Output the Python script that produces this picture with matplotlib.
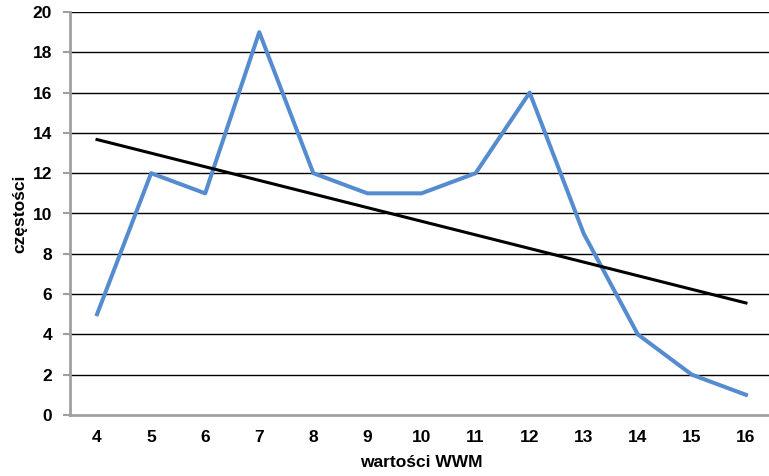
import numpy as np
import matplotlib
matplotlib.use("Agg")
import matplotlib.pyplot as plt

plt.rcParams['font.family'] = ['Liberation Sans', 'DejaVu Sans']

# dane
wartosci = [4, 5, 6, 7, 8, 9, 10, 11, 12, 13, 14, 15, 16]
czestosci = [5, 12, 11, 19, 12, 11, 11, 12, 16, 9, 4, 2, 1]
y_ticks = [0, 2, 4, 6, 8, 10, 12, 14, 16, 18, 20]

x = np.array(wartosci)
y = np.array(czestosci)

# linia trendu (liniowa)
a, b = np.polyfit(x, y, 1)
trend = a * x + b

fig = plt.figure(figsize=(7.69, 4.76), dpi=100)
ax = fig.add_axes([70 / 769, 61 / 476, 703 / 769, 403 / 476])

for t in y_ticks[1:]:
    ax.axhline(t, color='black', linewidth=1.0, zorder=1)

ax.plot(x, y, color='#558CCF', linewidth=2.9, zorder=3, solid_joinstyle='round')
ax.plot(x, trend, color='black', linewidth=2.2, zorder=4)

ax.set_xlim(3.5, 16.5)
ax.set_ylim(0, 20)
ax.set_xticks(wartosci)
ax.set_xticklabels([str(v) for v in wartosci], fontsize=12.5, fontweight='bold')
ax.set_yticks(y_ticks)
ax.set_yticklabels([str(v) for v in y_ticks], fontsize=12.5, fontweight='bold')
ax.tick_params(axis='x', length=0, pad=11)
ax.tick_params(axis='y', length=5, width=1.5, color='#A0A0A0', pad=8)

for s in ['top', 'right']:
    ax.spines[s].set_visible(False)
for s in ['left', 'bottom']:
    ax.spines[s].set_color('#A0A0A0')
    ax.spines[s].set_linewidth(2)

ax.set_xlabel("wartości WWM", fontsize=12.5, fontweight='bold', labelpad=7)
ax.set_ylabel("częstości", fontsize=12.5, fontweight='bold', labelpad=4)

fig.savefig("out.png", dpi=100)
